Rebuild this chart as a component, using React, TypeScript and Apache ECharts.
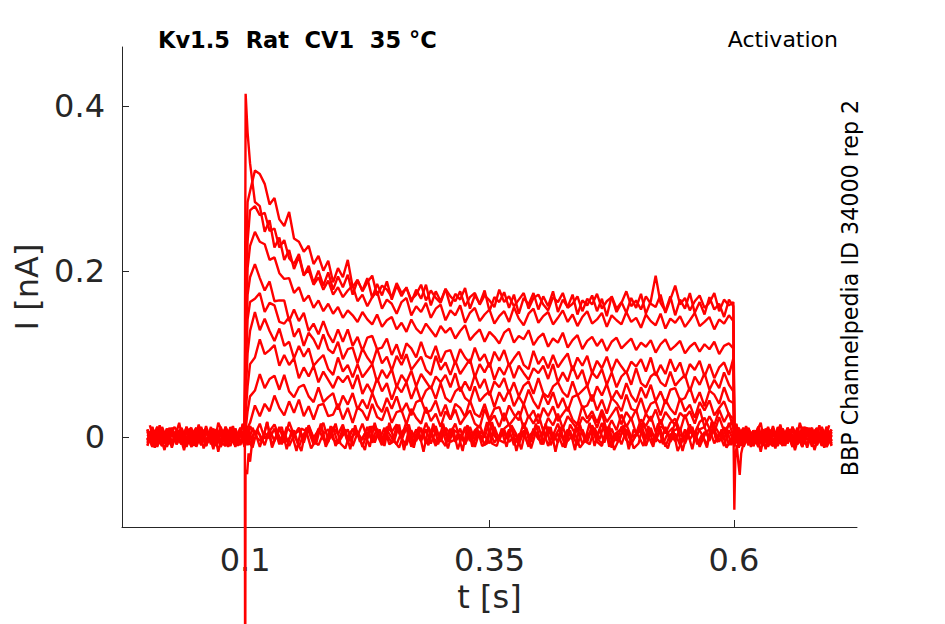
import React, { useEffect, useRef } from "react";
import * as echarts from "echarts";

// ---- sample times [s] ----
const timePre = [0, .005, .01, .015, .02, .025, .03, .035, .04, .045, .05, .055, .06, .065, .07, .075, .08, .085, .09, .095, .0995];
const timeStep = [.1005, .1025, .105, .11, .115, .12, .125, .13, .135, .14, .145, .15, .155, .16, .165, .17, .175, .18, .185, .19, .195, .2,
  .205, .21, .215, .22, .225, .23, .235, .24, .245, .25, .255, .26, .265, .27, .275, .28, .285, .29, .295, .3,
  .305, .31, .315, .32, .325, .33, .335, .34, .345, .35, .355, .36, .365, .37, .375, .38, .385, .39, .395, .4,
  .405, .41, .415, .42, .425, .43, .435, .44, .445, .45, .455, .46, .465, .47, .475, .48, .485, .49, .495, .5,
  .505, .51, .515, .52, .525, .53, .535, .54, .545, .55, .555, .56, .565, .57, .575, .58, .585, .59, .595, .5995];
const timePost = [.6005, .605, .61, .615, .62, .625, .63, .635, .64, .645, .65, .655, .66, .665, .67, .675, .68, .685, .69, .695, .7];
const timeZero = [.0025,.0075,.0125,.0175,.0225,.0275,.0325,.0375,.0425,.0475, .0525,.0575,.0625,.0675,.0725,.0775,.0825,.0875,.0925,.0975,
  .1025,.1075,.1125,.1175,.1225,.1275,.1325,.1375,.1425,.1475, .1525,.1575,.1625,.1675,.1725,.1775,.1825,.1875,.1925,.1975,
  .2025,.2075,.2125,.2175,.2225,.2275,.2325,.2375,.2425,.2475, .2525,.2575,.2625,.2675,.2725,.2775,.2825,.2875,.2925,.2975,
  .3025,.3075,.3125,.3175,.3225,.3275,.3325,.3375,.3425,.3475, .3525,.3575,.3625,.3675,.3725,.3775,.3825,.3875,.3925,.3975,
  .4025,.4075,.4125,.4175,.4225,.4275,.4325,.4375,.4425,.4475, .4525,.4575,.4625,.4675,.4725,.4775,.4825,.4875,.4925,.4975,
  .5025,.5075,.5125,.5175,.5225,.5275,.5325,.5375,.5425,.5475, .5525,.5575,.5625,.5675,.5725,.5775,.5825,.5875,.5925,.5975,
  .6025,.6075,.6125,.6175,.6225,.6275,.6325,.6375,.6425,.6475, .6525,.6575,.6625,.6675,.6725,.6775,.6825,.6875,.6925,.6975];

// ---- currents [nA], pulse segments ----
const pulse1 = [.415,.368,.331,.284,.279,.248,.262,.229,.241,.214, .226,.203,.218,.195,.207,.186,.201,.183,.199,.178,
  .194,.181,.196,.172,.189,.177,.192,.168,.185,.171, .188,.166,.183,.17,.181,.163,.178,.167,.184,.159,
  .176,.164,.179,.158,.173,.166,.18,.155,.171,.161, .177,.152,.169,.163,.175,.156,.172,.149,.168,.16,
  .174,.154,.17,.158,.176,.151,.166,.157,.172,.148, .165,.159,.171,.152,.167,.146,.17,.155,.163,.15,
  .168,.156,.173,.149,.164,.195,.162,.152,.17,.147, .166,.155,.174,.15,.163,.148,.169,.154,.161,.145, .166,.158];
const pulse2 = [.196,.284,.297,.322,.318,.306,.281,.289,.263,.255, .272,.24,.236,.224,.231,.209,.219,.201,.213,.187,
  .204,.193,.214,.181,.19,.176,.187,.195,.171,.183, .178,.169,.186,.174,.18,.166,.172,.184,.165,.177,
  .168,.162,.179,.17,.164,.176,.158,.169,.174,.16, .171,.165,.157,.178,.163,.17,.158,.166,.174,.155,
  .168,.172,.16,.153,.169,.163,.174,.156,.161,.17, .152,.167,.16,.173,.155,.164,.169,.151,.162,.176,
  .158,.165,.154,.17,.161,.157,.172,.15,.166,.183, .16,.168,.153,.164,.171,.156,.162,.174,.152,.166, .159,.163];
const pulse3 = [.148,.236,.274,.279,.268,.271,.249,.252,.229,.238, .216,.209,.221,.196,.202,.184,.193,.178,.189,.172,
  .181,.169,.177,.183,.164,.172,.158,.169,.176,.155, .166,.161,.149,.163,.168,.147,.158,.151,.162,.144,
  .155,.16,.141,.153,.147,.159,.138,.15,.156,.14, .148,.154,.137,.146,.152,.139,.157,.143,.135,.149,
  .155,.138,.146,.151,.136,.144,.153,.139,.148,.134, .145,.152,.137,.142,.15,.133,.147,.141,.136,.151,
  .139,.144,.132,.148,.14,.135,.149,.131,.143,.138, .146,.133,.141,.15,.134,.139,.145,.13,.142,.137, .147,.14];
const pulse4 = [.118,.204,.231,.248,.236,.233,.214,.217,.198,.191, .192,.174,.181,.164,.171,.156,.165,.152,.161,.149,
  .157,.144,.153,.147,.139,.151,.142,.136,.148,.133, .141,.145,.13,.138,.127,.142,.131,.125,.137,.129,
  .121,.134,.126,.132,.119,.128,.135,.117,.124,.13, .115,.127,.121,.113,.126,.131,.114,.122,.118,.129,
  .111,.12,.125,.109,.119,.114,.126,.108,.117,.123, .106,.116,.121,.11,.118,.104,.115,.12,.107,.113,
  .119,.105,.114,.109,.117,.102,.112,.118,.105,.11, .116,.101,.109,.114,.103,.112,.106,.115,.1,.11, .113,.107];
const pulse5 = [.098,.172,.193,.209,.192,.177,.188,.164,.165,.165, .14,.154,.14,.15,.128,.137,.124,.14,.124,.114,
  .13,.115,.13,.11,.121,.104,.12,.122,.106,.108, .119,.099,.112,.094,.113,.107,.096,.115,.098,.095,
  .11,.09,.103,.105,.088,.106,.096,.089,.108,.092, .1,.084,.103,.092,.105,.086,.095,.103,.087,.082,
  .104,.088,.097,.083,.099,.084,.093,.101,.08,.096, .086,.098,.077,.092,.083,.097,.079,.094,.085,.077,
  .091,.085,.094,.079,.096,.074,.087,.076,.094,.079, .09,.071,.088,.081,.092,.073,.088,.071,.084,.09, .075,.095];
const pulse6 = [.078,.142,.163,.167,.174,.151,.162,.159,.139,.137, .145,.121,.131,.11,.126,.118,.106,.124,.106,.101,
  .115,.094,.106,.108,.089,.107,.096,.088,.107,.089, .097,.08,.098,.087,.1,.081,.089,.097,.081,.075,
  .098,.081,.09,.075,.092,.076,.085,.094,.072,.088, .078,.09,.069,.084,.075,.089,.071,.086,.077,.069,
  .083,.077,.086,.07,.088,.066,.078,.067,.086,.07, .081,.061,.078,.071,.082,.063,.078,.06,.073,.079,
  .063,.083,.065,.06,.073,.078,.066,.061,.079,.062, .069,.075,.055,.073,.063,.077,.057,.069,.059,.078, .063,.055];
const pulse7 = [.049,.101,.128,.151,.129,.143,.128,.116,.131,.11, .115,.095,.11,.097,.107,.086,.093,.099,.082,.075,
  .096,.079,.087,.072,.088,.072,.08,.088,.066,.081, .071,.082,.06,.075,.066,.08,.061,.076,.067,.058,
  .073,.066,.075,.06,.077,.055,.067,.056,.075,.059, .07,.05,.067,.06,.071,.052,.066,.049,.062,.067,
  .052,.071,.053,.048,.061,.066,.054,.048,.067,.05, .056,.062,.043,.061,.05,.064,.045,.056,.046,.065,
  .05,.042,.06,.047,.063,.043,.055,.04,.057,.059, .044,.047,.06,.041,.054,.037,.056,.051,.04,.06, .044,.041];
const pulse8 = [.029,.061,.088,.096,.118,.1,.105,.111,.086,.099, .087,.095,.071,.084,.073,.086,.066,.079,.069,.059,
  .073,.066,.074,.058,.075,.052,.064,.053,.071,.055, .065,.045,.062,.054,.066,.046,.061,.043,.056,.061,
  .046,.065,.047,.042,.055,.06,.047,.042,.061,.043, .05,.055,.036,.054,.043,.057,.037,.049,.039,.057,
  .043,.034,.052,.039,.054,.035,.047,.031,.048,.051, .035,.038,.051,.032,.045,.028,.047,.041,.031,.051,
  .034,.031,.047,.028,.04,.043,.026,.045,.034,.027, .047,.031,.039,.023,.042,.032,.044,.026,.035,.043, .027,.022];
const pulse9 = [.009,.031,.049,.056,.076,.059,.07,.074,.057,.075, .055,.048,.06,.063,.049,.042,.06,.042,.048,.053,
  .033,.05,.039,.053,.033,.045,.034,.053,.038,.03, .047,.034,.049,.03,.041,.026,.042,.045,.029,.032,
  .044,.025,.039,.021,.04,.035,.024,.044,.028,.024, .04,.021,.034,.036,.019,.038,.027,.02,.04,.023,
  .032,.016,.035,.025,.037,.019,.028,.036,.021,.015, .038,.022,.031,.017,.033,.018,.027,.036,.015,.03,
  .021,.033,.012,.028,.019,.033,.015,.03,.022,.014, .029,.023,.031,.016,.034,.012,.025,.014,.033,.018, .029,.01];
const pulse10 = [.003,.011,.017,.038,.025,.04,.031,.05,.035,.026, .043,.029,.045,.025,.037,.021,.038,.04,.025,.027,
  .04,.021,.035,.017,.036,.031,.02,.04,.024,.02, .036,.017,.03,.032,.015,.034,.023,.016,.036,.019,
  .028,.012,.031,.021,.033,.015,.024,.032,.016,.011, .034,.018,.026,.012,.029,.014,.022,.031,.01,.026,
  .016,.028,.007,.023,.014,.028,.01,.025,.017,.009, .024,.017,.026,.011,.029,.007,.02,.008,.027,.012,
  .023,.004,.021,.013,.025,.006,.021,.004,.017,.022, .007,.027,.009,.004,.018,.023,.01,.005,.024,.007, .014,.02];
const pulse11 = [.01,-.006,.013,.003,.016,-.002,.007,.015,0,-.005, .018,.002,.011,-.003,.014,-.001,.008,.017,-.004,.012,
  .003,.015,-.006,.01,.001,.016,-.002,.013,.005,-.003, .012,.006,.015,0,.018,-.004,.009,-.002,.017,.002,
  .013,-.006,.011,.004,.016,-.003,.012,-.005,.008,.014, -.001,.019,.001,-.004,.01,.015,.003,-.002,.017,0,
  .007,.013,-.006,.012,.002,.016,-.003,.009,-.001,.018, .004,-.004,.014,.001,.017,-.002,.01,-.005,.012,.015,
  0,.003,.016,-.003,.011,-.006,.013,.008,-.002,.018, .002,-.001,.015,-.004,.009,.012,-.005,.014,.004,-.003, .017,.001];
const pulse12 = [-.008,.011,-.004,.007,-.012,.005,-.002,.01,-.009,.006, -.011,.002,.008,-.007,.013,-.005,-.01,.004,.009,-.003,
  -.008,.011,-.006,.001,.007,-.012,.006,-.004,.01,-.009, .003,-.007,.012,-.002,-.01,.008,-.005,.011,-.008,.004,
  -.011,.006,.009,-.006,-.003,.01,-.009,.005,-.012,.007, .002,-.008,.012,-.004,-.007,.009,-.01,.003,.006,-.011,
  .008,-.002,-.009,.011,-.005,.004,-.012,.007,-.003,.01, -.008,.001,.009,-.006,-.011,.012,-.004,.005,-.009,.008,
  -.007,.002,.011,-.01,.006,-.003,.009,-.012,.004,-.005, .01,-.008,.007,-.001,-.009,.006,0,.009,-.006,.012, -.01,.003];
const pulse13 = [.011,-.006,-.009,.006,.003,-.01,.009,-.005,.012,-.007, -.002,.008,-.012,.004,.007,-.009,.01,-.003,-.006,.011,
  -.008,.002,.009,-.011,.005,-.004,.012,-.007,.003,-.01, .008,-.001,-.009,.006,.011,-.012,.004,-.005,.009,-.008,
  .007,-.002,-.011,.01,-.006,.003,-.009,.012,-.004,.005, -.01,.008,-.007,.001,.009,-.006,0,-.009,.006,-.012,
  .01,-.003,.008,-.011,.004,-.007,.012,-.005,.002,-.01, .009,-.006,.011,-.002,-.008,.007,-.013,.005,.01,-.004,
  -.009,.003,.008,-.011,.006,-.001,-.007,.012,-.006,.004, -.01,.009,-.003,.007,-.012,.002,.01,-.008,.005,-.011, .008,-.004];

// ---- currents [nA], holding baseline before and after the step ----
const pre1 = [-.004,.007,-.012,.005,-.002,.01,-.009,.006,-.011,.002,.008,-.007,.013,-.005,-.01,.004,.009,-.003,-.008,.011,-.006];
const post1 = [.012,-.004,-.007,.009,-.01,.003,.006,-.011,.008,-.002,-.009,.011,-.005,.004,-.012,.007,-.003,.01,-.008,.001,.009];
const pre2 = [-.006,.011,-.002,-.008,.007,-.013,.005,.01,-.004,-.009,.003,.008,-.011,.006,-.001,-.007,.012,-.006,.004,-.01,.009];
const post2 = [.011,-.008,.002,.009,-.011,.005,-.004,.012,-.007,.003,-.01,.008,-.001,-.009,.006,.011,-.012,.004,-.005,.009,-.008];
const pre3 = [-.01,.004,.009,-.003,-.008,.011,-.006,.001,.007,-.012,.006,-.004,.01,-.009,.003,-.007,.012,-.002,-.01,.008,-.005];
const post3 = [-.012,.007,-.003,.01,-.008,.001,.009,-.006,-.011,.012,-.004,.005,-.009,.008,-.007,.002,.011,-.01,.006,-.003,.009];
const pre4 = [-.001,-.007,.012,-.006,.004,-.01,.009,-.003,.007,-.012,.002,.01,-.008,.005,-.011,.008,-.004,.011,-.006,-.009,.006];
const post4 = [.006,.011,-.012,.004,-.005,.009,-.008,.007,-.002,-.011,.01,-.006,.003,-.009,.012,-.004,.005,-.01,.008,-.007,.001];
const pre5 = [.003,-.007,.012,-.002,-.01,.008,-.005,.011,-.008,.004,-.011,.006,.009,-.006,-.003,.01,-.009,.005,-.012,.007,.002];
const post5 = [-.007,.002,.011,-.01,.006,-.003,.009,-.012,.004,-.005,.01,-.008,.007,-.001,-.009,.006,0,.009,-.006,.012,-.01];
const pre6 = [-.011,.008,-.004,.011,-.006,-.009,.006,.003,-.01,.009,-.005,.012,-.007,-.002,.008,-.012,.004,.007,-.009,.01,-.003];
const post6 = [.012,-.004,.005,-.01,.008,-.007,.001,.009,-.006,0,-.009,.006,-.012,.01,-.003,.008,-.011,.004,-.007,.012,-.005];
const pre7 = [-.003,.01,-.009,.005,-.012,.007,.002,-.008,.012,-.004,-.007,.009,-.01,.003,.006,-.011,.008,-.002,-.009,.011,-.005];
const post7 = [-.009,.006,0,.009,-.006,.012,-.01,.003,-.008,.011,-.004,.007,-.012,.005,-.002,.01,-.009,.006,-.011,.002,.008];
const pre8 = [.008,-.012,.004,.007,-.009,.01,-.003,-.006,.011,-.008,.002,.009,-.011,.005,-.004,.012,-.007,.003,-.01,.008,-.001];
const post8 = [-.003,.008,-.011,.004,-.007,.012,-.005,.002,-.01,.009,-.006,.011,-.002,-.008,.007,-.013,.005,.01,-.004,-.009,.003];
const pre9 = [.006,-.011,.008,-.002,-.009,.011,-.005,.004,-.012,.007,-.003,.01,-.008,.001,.009,-.006,-.011,.012,-.004,.005,-.009];
const post9 = [-.002,.01,-.009,.006,-.011,.002,.008,-.007,.013,-.005,-.01,.004,.009,-.003,-.008,.011,-.006,.001,.007,-.012,.006];
const pre10 = [-.004,.012,-.007,.003,-.01,.008,-.001,-.009,.006,.011,-.012,.004,-.005,.009,-.008,.007,-.002,-.011,.01,-.006,.003];
const post10 = [.007,-.013,.005,.01,-.004,-.009,.003,.008,-.011,.006,-.001,-.007,.012,-.006,.004,-.01,.009,-.003,.007,-.012,.002];
const pre11 = [.009,-.006,-.011,.012,-.004,.005,-.009,.008,-.007,.002,.011,-.01,.006,-.003,.009,-.012,.004,-.005,.01,-.008,.007];
const post11 = [-.008,.011,-.006,.001,.007,-.012,.006,-.004,.01,-.009,.003,-.007,.012,-.002,-.01,.008,-.005,.011,-.008,.004,-.011];
const pre12 = [-.008,.007,-.002,-.011,.01,-.006,.003,-.009,.012,-.004,.005,-.01,.008,-.007,.001,.009,-.006,0,-.009,.006,-.012];
const post12 = [.004,-.01,.009,-.003,.007,-.012,.002,.01,-.008,.005,-.011,.008,-.004,.011,-.006,-.009,.006,.003,-.01,.009,-.005];
const pre13 = [.009,-.012,.004,-.005,.01,-.008,.007,-.001,-.009,.006,0,.009,-.006,.012,-.01,.003,-.008,.011,-.004,.007,-.012];
const post13 = [-.01,.008,-.005,.011,-.008,.004,-.011,.006,.009,-.006,-.003,.01,-.009,.005,-.012,.007,.002,-.008,.012,-.004,-.007];

// ---- two more sub-threshold sweeps, whole record ----
const zero14 = [.014,-.009,.004,-.016,.011,-.003,.017,-.012,.006,-.007,.015,-.014,.002,.01,-.018,.008,-.005,.013,-.011,.016,
  -.002,-.013,.009,-.006,.018,-.01,.003,.012,-.015,.007,-.004,-.017,.011,.005,-.009,.014,-.012,.001,.016,-.008,
  -.014,.006,.01,-.003,-.016,.013,-.007,.009,-.011,.017,-.005,-.013,.004,.015,-.01,.008,-.018,.012,-.001,-.009,
  .016,-.006,.011,-.015,.003,.014,-.012,.007,-.004,.018,-.008,-.011,.01,-.002,.013,-.017,.005,.009,-.014,.006,
  -.007,.016,-.01,.002,.012,-.013,.008,-.016,.015,-.005,-.009,.011,-.003,.017,-.012,.004,-.006,.014,-.015,.009,
  .001,-.011,.013,-.008,.016,-.004,-.014,.007,.01,-.017,.005,.012,-.009,.003,-.013,.018,-.006,-.002,.011,-.01,
  .015,-.007,.008,-.012,.004,.017,-.015,.006,-.001,.013,-.011,.009,-.016,.005,.012,-.004,-.008,.014,-.013,.007];
const zero15 = [.007,-.013,.014,-.008,-.004,.012,.005,-.016,.009,-.011,.013,-.001,.006,-.015,.017,.004,-.012,.008,-.007,.015,
  -.01,.011,-.002,-.006,.018,-.013,.003,-.009,.012,.005,-.017,.01,.007,-.014,-.004,.016,-.008,.013,-.011,.001,
  .009,-.015,.014,-.006,.004,-.012,.017,-.003,.011,-.009,-.005,.015,-.016,.008,-.013,.012,.002,-.01,.016,-.007,
  .006,-.014,.009,.005,-.017,.013,-.002,.01,-.011,-.008,.018,-.004,.007,-.012,.014,.003,-.015,.011,-.006,.016,
  -.009,-.001,.012,-.018,.008,-.01,.015,.004,-.013,-.005,.017,-.011,.009,-.007,.013,-.016,-.003,.01,.006,-.014,
  -.008,.016,.001,-.012,.014,-.009,.005,.011,-.017,-.004,.007,-.015,.012,.003,-.01,.018,-.006,.009,-.013,-.002,
  .016,-.011,.013,-.005,.008,-.018,.01,.002,-.014,.015,-.007,.006,-.012,.017,-.003,.011,-.016,.004,-.009,.014];

// ---- capacitive transients at step on / off ----
const onTransientTime = [.0997, .1, .1004, .102, .1035, .105, .107, .109];
const onTransientCurrent = [0, -.36, -.04, -.045, -.02, -.03, -.008, 0];
const offTransientTime = [.5997, .6005, .6015, .603, .6045, .606, .6075, .609, .611];
const offTransientCurrent = [0, -.088, -.025, -.01, -.03, -.046, -.02, -.012, 0];

// ---- axes ----
const xTicks = [0.1, 0.35, 0.6];
const yTicks = [0, 0.2, 0.4];

const sweeps = [
  [pre1, pulse1, post1], [pre2, pulse2, post2], [pre3, pulse3, post3], [pre4, pulse4, post4],
  [pre5, pulse5, post5], [pre6, pulse6, post6], [pre7, pulse7, post7], [pre8, pulse8, post8],
  [pre9, pulse9, post9], [pre10, pulse10, post10], [pre11, pulse11, post11],
  [pre12, pulse12, post12], [pre13, pulse13, post13],
];
const zeroSweeps = [zero14, zero15];

const FONT = '"DejaVu Sans", "Noto Sans", sans-serif';
const AXIS_COLOR = "#262626";

export default function App() {
  const ref = useRef<HTMLDivElement>(null);
  useEffect(() => {
    document.body.style.margin = "0";
    if (!ref.current) return;
    const chart = echarts.init(ref.current, null, { renderer: "svg" });
    const lineStyle = { color: "#ff0000", width: 2.4 };
    const base = { type: "line", showSymbol: false, symbol: "none", silent: true, lineStyle };
    const series: any[] = zeroSweeps.map((z) => ({
      ...base,
      data: timeZero.map((t, i) => [t, z[i]]),
    }));
    sweeps.forEach(([pre, pulse, post]) => {
      series.push({
        ...base,
        data: [
          ...timePre.map((t, i) => [t, pre[i]]),
          ...timeStep.map((t, i) => [t, pulse[i]]),
          ...timePost.map((t, i) => [t, post[i]]),
        ],
      });
    });
    series.push({ ...base, clip: false, data: onTransientTime.map((t, i) => [t, onTransientCurrent[i]]) });
    series.push({ ...base, clip: false, data: offTransientTime.map((t, i) => [t, offTransientCurrent[i]]) });

    chart.setOption({
      animation: false,
      backgroundColor: "#ffffff",
      grid: { left: 122, right: 88, top: 47, bottom: 97, containLabel: false, outerBoundsMode: "none" },
      xAxis: {
        type: "value",
        min: -0.026,
        max: 0.726,
        name: "t [s]",
        nameLocation: "middle",
        nameGap: 54,
        nameTextStyle: { fontSize: 32, color: AXIS_COLOR, fontFamily: FONT },
        axisLine: { show: true, onZero: false, lineStyle: { color: AXIS_COLOR, width: 1 } },
        axisTick: { show: true, inside: true, length: 7, customValues: xTicks, lineStyle: { color: AXIS_COLOR } },
        axisLabel: { customValues: xTicks, fontSize: 32, color: AXIS_COLOR, fontFamily: FONT, margin: 17 },
        splitLine: { show: false },
      },
      yAxis: {
        type: "value",
        min: -0.109,
        max: 0.4715,
        name: "I [nA]",
        nameLocation: "middle",
        nameGap: 77,
        nameTextStyle: { fontSize: 32, color: AXIS_COLOR, fontFamily: FONT },
        axisLine: { show: true, onZero: false, lineStyle: { color: AXIS_COLOR, width: 1 } },
        axisTick: { show: true, inside: true, length: 7, customValues: yTicks, lineStyle: { color: AXIS_COLOR } },
        axisLabel: { customValues: yTicks, fontSize: 32, color: AXIS_COLOR, fontFamily: FONT, margin: 17 },
        splitLine: { show: false },
      },
      graphic: [
        {
          type: "text", x: 158, y: 40,
          style: { text: "Kv1.5  Rat  CV1  35 °C", fontSize: 22.5, fontWeight: "bold", fontFamily: FONT, fill: "#000", align: "left", verticalAlign: "middle" },
        },
        {
          type: "text", x: 838, y: 39,
          style: { text: "Activation", fontSize: 22, fontFamily: FONT, fill: "#000", align: "right", verticalAlign: "middle" },
        },
        {
          type: "text", x: 850, y: 288, rotation: Math.PI / 2,
          style: { text: "BBP Channelpedia ID 34000 rep 2", fontSize: 22.2, fontFamily: FONT, fill: "#000", align: "center", verticalAlign: "middle" },
        },
      ],
      series,
    });
    return () => chart.dispose();
  }, []);
  return <div ref={ref} style={{ position: "absolute", left: 0, top: 0, width: 945, height: 624 }} />;
}
